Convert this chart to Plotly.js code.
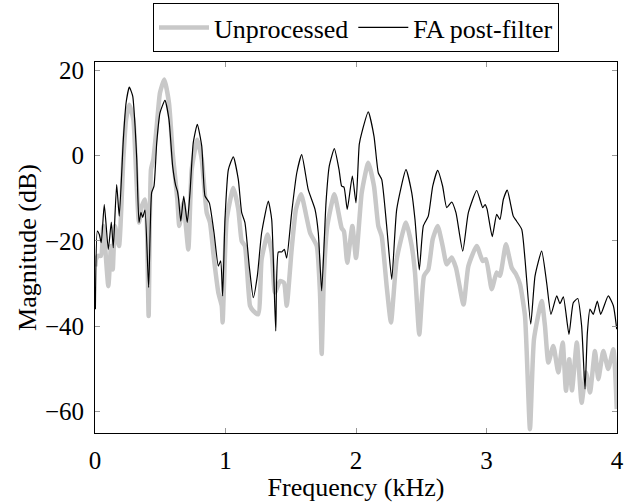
<!DOCTYPE html>
<html>
<head>
<meta charset="utf-8">
<script src="https://cdn.plot.ly/plotly-3.0.1.min.js"></script>
<style>html,body{margin:0;padding:0;background:#fff;}#chart{width:627px;height:502px;}</style>
</head>
<body>
<div id="chart"></div>
<script>
// Frequency (kHz) and magnitude (dB)
const rawFreq = [0.003,0.008,0.025,0.046,0.064,0.102,0.123,0.136,0.153,0.184,0.217,0.238,0.263,0.294,0.314,0.337,0.358,0.383,0.396,0.411,0.429,0.447,0.473,0.498,0.531,0.567,0.595,0.613,0.631,0.646,0.677,0.715,0.741,0.784,0.818,0.856,0.881,0.912,0.945,0.971,0.978,1.009,1.060,1.098,1.124,1.149,1.188,1.213,1.251,1.277,1.323,1.354,1.379,1.418,1.448,1.469,1.507,1.540,1.579,1.648,1.699,1.724,1.737,1.755,1.780,1.834,1.890,1.908,1.933,1.972,2.000,2.044,2.094,2.138,2.171,2.197,2.235,2.268,2.312,2.383,2.427,2.452,2.485,2.521,2.554,2.588,2.626,2.664,2.695,2.733,2.766,2.824,2.861,2.925,2.971,2.996,3.040,3.078,3.103,3.149,3.193,3.226,3.257,3.295,3.333,3.364,3.423,3.448,3.474,3.512,3.550,3.584,3.609,3.634,3.655,3.692,3.729,3.762,3.793,3.831,3.857,3.895,3.933,3.972,3.998];
const rawMag = [-26,-24.3,-23.5,-23.5,-16.5,-30.6,-21.2,-26.7,-16.5,-21.2,-0.9,8.4,11.9,8.4,-3.3,-15.7,-11.9,-10.3,-14.2,-37.6,-3.3,-0.9,6.9,14.7,17.8,12.3,0.6,-4.8,-10.3,-16.5,-11.1,-22,-3.3,3.7,-0.9,-13.4,-15.7,-24.3,-32.1,-35.2,-39.1,-15,-7.6,-12.6,-20,-21.2,-35.2,-36.4,-37.2,-24.3,-18.5,-22.8,-32.1,-29.4,-29.8,-35.2,-22,-12.6,-9.1,-18.1,-21.2,-32.1,-46.5,-27.4,-16.5,-9.1,-17,-17.8,-25.1,-16.5,-24,-8.7,-1.7,-7.2,-16.5,-18.9,-30.6,-39.1,-24.3,-15.7,-21.2,-27.4,-41.9,-28.2,-26.7,-19.6,-16.5,-21.2,-25.5,-23.9,-26.3,-34.9,-25.9,-21.2,-24.7,-24.3,-31.3,-27.4,-28.2,-20.8,-26.3,-27.8,-30.2,-37.6,-64.1,-43,-34.1,-39.9,-48.5,-44.6,-50.8,-43.8,-55.1,-47.7,-55,-43.8,-57.9,-50.8,-55.5,-45.8,-52.4,-45.8,-50,-45.4,-59.4];

const faFreq = [0.003,0.018,0.033,0.048,0.071,0.102,0.125,0.140,0.166,0.186,0.217,0.238,0.263,0.289,0.307,0.320,0.337,0.352,0.365,0.383,0.411,0.434,0.452,0.473,0.498,0.536,0.567,0.595,0.618,0.631,0.641,0.657,0.680,0.707,0.728,0.753,0.784,0.818,0.843,0.876,0.912,0.945,0.963,0.978,0.996,1.022,1.060,1.098,1.124,1.149,1.182,1.213,1.244,1.277,1.328,1.354,1.385,1.405,1.431,1.451,1.469,1.507,1.546,1.584,1.634,1.686,1.711,1.737,1.770,1.795,1.834,1.870,1.890,1.908,1.933,1.972,2.000,2.025,2.044,2.094,2.138,2.171,2.197,2.235,2.274,2.312,2.383,2.427,2.452,2.485,2.516,2.554,2.588,2.626,2.664,2.695,2.733,2.766,2.818,2.861,2.925,2.971,2.989,3.004,3.044,3.078,3.103,3.129,3.159,3.205,3.231,3.270,3.295,3.339,3.372,3.423,3.461,3.494,3.538,3.563,3.589,3.632,3.665,3.699,3.729,3.755,3.773,3.793,3.818,3.849,3.875,3.933,3.972,3.998];
const faMag = [-36,-17.7,-18.5,-20.4,-11.5,-22,-15.6,-21.6,-6.8,-14.2,3.7,12.3,16.0,13.9,6.9,-0.9,-15.7,-13.3,-14.5,-12.8,-30.9,-8.7,-7.2,3.0,10.0,12.9,8.4,-2.5,-7,-8.3,-10.3,-15.4,-9.5,-15.7,-8.7,3.0,7.3,2.2,-9.5,-11.1,-18.1,-25.9,-24.7,-32.9,-15,-3.3,-0.3,-5.6,-13.4,-15.7,-25.9,-33.3,-28.2,-18.1,-10.7,-15,-41.1,-22.6,-22.6,-22,-24,-13.4,-4.1,0.2,-8,-12.6,-18.1,-31.7,-11.1,-2.5,1.6,-3.3,-7.2,-7.4,-12.6,-4.8,-11.1,2.6,5.3,10.2,4.5,-4.1,-5.6,-16.5,-29,-12.6,-3.3,-8.7,-15,-26.8,-16.5,-14.2,-7.2,-3.5,-7.2,-12.2,-10.9,-13.4,-22.4,-13.4,-8.2,-12.2,-11.5,-12.5,-19,-13.8,-15,-10.3,-8.1,-14.2,-15.4,-17.3,-24.3,-39.5,-28.2,-22.4,-29.8,-37.2,-32.9,-34.7,-33.1,-41.9,-34.5,-33.5,-39.9,-54.7,-41.5,-36,-37.2,-34.1,-37.2,-32.9,-35.2,-40.7];

const seriesNames = ['Unprocessed', 'FA post-filter'];
const xTicks = [0, 1, 2, 3, 4];
const yTicks = [-60, -40, -20, 0, 20];

const FONT = '"Liberation Serif", "Times New Roman", serif';

const traces = [
  {x: rawFreq, y: rawMag, name: seriesNames[0], type: 'scatter', mode: 'lines',
   line: {color: '#c8c8c8', width: 4.5, shape: 'spline', smoothing: 0.5}},
  {x: faFreq, y: faMag, name: seriesNames[1], type: 'scatter', mode: 'lines',
   line: {color: '#000000', width: 1.2, shape: 'spline', smoothing: 0.5}}
];

const axisCommon = {
  showline: true, linecolor: '#000', linewidth: 1, mirror: 'ticks',
  ticks: 'inside', ticklen: 5, tickcolor: '#999', tickwidth: 1,
  showgrid: false, zeroline: false,
  tickfont: {family: FONT, size: 25, color: '#000'}
};

const layout = {
  width: 627, height: 502,
  margin: {l: 95, r: 10, t: 62, b: 69, pad: 0, autoexpand: false},
  paper_bgcolor: '#fff', plot_bgcolor: '#fff',
  font: {family: FONT, color: '#000'},
  showlegend: true,
  legend: {orientation: 'h', x: 0.5, xanchor: 'center',
    yref: 'container', y: 0.994, yanchor: 'top',
    itemwidth: 50,
    font: {family: FONT, size: 26, color: '#000'},
    bordercolor: '#000', borderwidth: 1, bgcolor: '#fff'},
  xaxis: Object.assign({}, axisCommon, {
    range: [0, 4], tickvals: xTicks, ticktext: xTicks.map(String),
    ticklabelstandoff: 5,
    title: {text: 'Frequency (kHz)', font: {family: FONT, size: 26, color: '#000'}, standoff: 2}
  }),
  yaxis: Object.assign({}, axisCommon, {
    range: [-65, 21.9], tickvals: yTicks,
    ticklabelstandoff: 5,
    title: {text: 'Magnitude (dB)', font: {family: FONT, size: 26, color: '#000'}, standoff: 0}
  })
};

Plotly.newPlot('chart', traces, layout, {displayModeBar: false, responsive: false});
</script>
</body>
</html>
